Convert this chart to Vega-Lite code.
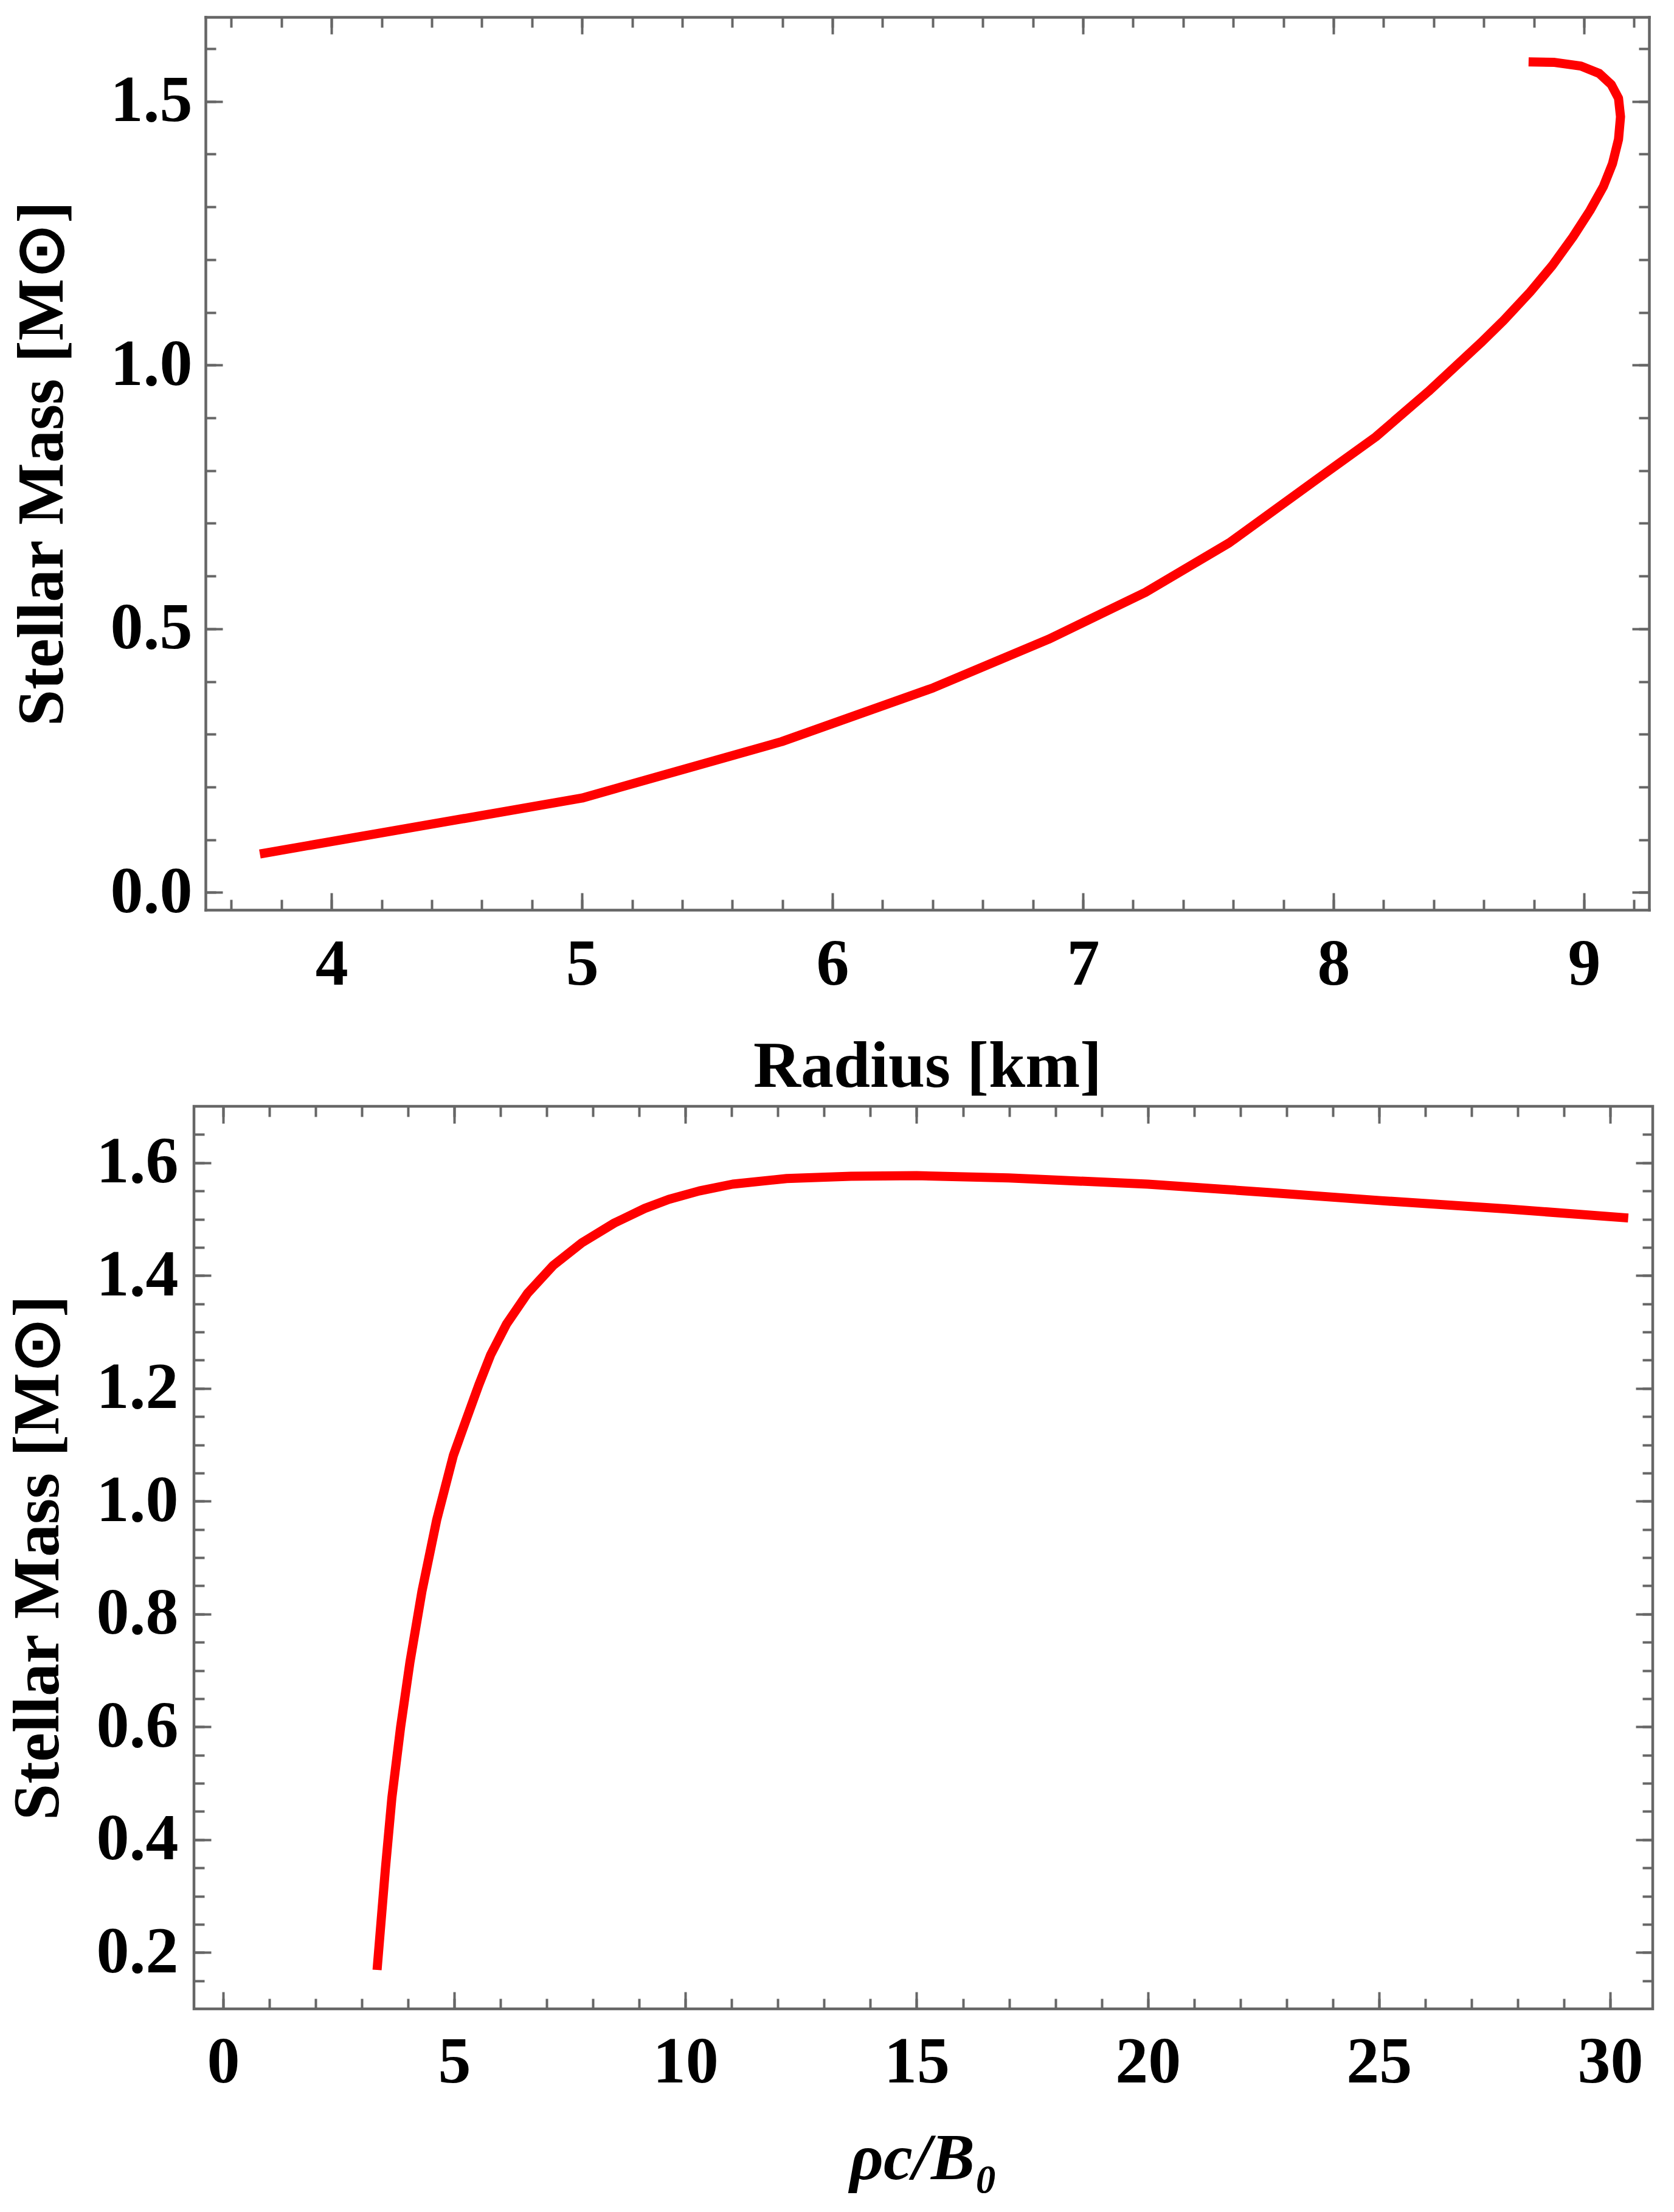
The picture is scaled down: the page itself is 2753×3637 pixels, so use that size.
{
  "$schema": "https://vega.github.io/schema/vega-lite/v6.json",
  "background": "white",
  "padding": {"left": 6, "top": 26, "right": 10, "bottom": 10},
  "config": {
    "view": {"stroke": "#666666", "strokeWidth": 4.5},
    "axis": {
      "domain": false, "grid": false,
      "domainColor": "#666666", "domainWidth": 4.5, "domainCap": "square",
      "tickColor": "#666666", "tickWidth": 4,
      "labelFont": "Liberation Serif", "labelFontWeight": "bold", "labelFontSize": 108, "labelColor": "black",
      "titleFont": "Liberation Serif", "titleFontWeight": "bold", "titleFontSize": 108, "titleColor": "black",
      "labelFlush": false, "labelOverlap": false
    }
  },
  "datasets": {
    "mr": [
      {"i": 0, "R": 3.714, "M": 0.073},
      {"i": 1, "R": 5.0, "M": 0.179},
      {"i": 2, "R": 5.797, "M": 0.286},
      {"i": 3, "R": 6.402, "M": 0.388},
      {"i": 4, "R": 6.862, "M": 0.48},
      {"i": 5, "R": 7.249, "M": 0.569},
      {"i": 6, "R": 7.584, "M": 0.663},
      {"i": 7, "R": 7.918, "M": 0.778},
      {"i": 8, "R": 8.169, "M": 0.864},
      {"i": 9, "R": 8.379, "M": 0.95},
      {"i": 10, "R": 8.588, "M": 1.042},
      {"i": 11, "R": 8.68, "M": 1.085},
      {"i": 12, "R": 8.786, "M": 1.139},
      {"i": 13, "R": 8.874, "M": 1.189},
      {"i": 14, "R": 8.956, "M": 1.243},
      {"i": 15, "R": 9.024, "M": 1.293},
      {"i": 16, "R": 9.078, "M": 1.339},
      {"i": 17, "R": 9.114, "M": 1.382},
      {"i": 18, "R": 9.138, "M": 1.428},
      {"i": 19, "R": 9.146, "M": 1.471},
      {"i": 20, "R": 9.138, "M": 1.506},
      {"i": 21, "R": 9.109, "M": 1.532},
      {"i": 22, "R": 9.061, "M": 1.553},
      {"i": 23, "R": 8.988, "M": 1.567},
      {"i": 24, "R": 8.883, "M": 1.574},
      {"i": 25, "R": 8.779, "M": 1.575}
    ],
    "mrho": [
      {"i": 0, "rho": 3.33, "M": 0.169},
      {"i": 1, "rho": 3.51, "M": 0.348},
      {"i": 2, "rho": 3.65, "M": 0.474},
      {"i": 3, "rho": 3.84, "M": 0.6},
      {"i": 4, "rho": 4.04, "M": 0.714},
      {"i": 5, "rho": 4.3, "M": 0.84},
      {"i": 6, "rho": 4.62, "M": 0.967},
      {"i": 7, "rho": 4.98, "M": 1.081},
      {"i": 8, "rho": 5.26, "M": 1.145},
      {"i": 9, "rho": 5.53, "M": 1.206},
      {"i": 10, "rho": 5.79, "M": 1.26},
      {"i": 11, "rho": 6.13, "M": 1.314},
      {"i": 12, "rho": 6.58, "M": 1.368},
      {"i": 13, "rho": 7.14, "M": 1.418},
      {"i": 14, "rho": 7.76, "M": 1.458},
      {"i": 15, "rho": 8.46, "M": 1.493},
      {"i": 16, "rho": 9.12, "M": 1.519},
      {"i": 17, "rho": 9.64, "M": 1.535},
      {"i": 18, "rho": 10.3, "M": 1.55},
      {"i": 19, "rho": 11.02, "M": 1.562},
      {"i": 20, "rho": 12.19, "M": 1.572},
      {"i": 21, "rho": 13.58, "M": 1.576},
      {"i": 22, "rho": 15.0, "M": 1.577},
      {"i": 23, "rho": 16.99, "M": 1.573},
      {"i": 24, "rho": 20.0, "M": 1.562},
      {"i": 25, "rho": 22.66, "M": 1.547},
      {"i": 26, "rho": 25.0, "M": 1.533},
      {"i": 27, "rho": 27.77, "M": 1.518},
      {"i": 28, "rho": 30.39, "M": 1.502}
    ]
  },
  "concat": [
    {
      "width": 2393, "height": 1468,
      "view": {"stroke": null},
      "data": {"name": "mr"},
      "layer": [
        {
          "mark": {"type": "line", "color": "#ff0000", "strokeWidth": 15, "strokeJoin": "round"},
          "encoding": {
            "x": {"field": "R", "type": "quantitative",
              "scale": {"domain": [3.497, 9.26], "range": [19, 2393], "nice": false, "zero": false},
              "axis": {"orient": "bottom", "values": [4, 5, 6, 7, 8, 9], "format": "d", "ticks": false, "labelPadding": 37, "title": "Radius [km]", "titlePadding": 61}},
            "y": {"field": "M", "type": "quantitative",
              "scale": {"domain": [-0.033, 1.66], "nice": false, "zero": false},
              "axis": {"orient": "left", "offset": -19, "values": [0, 0.5, 1, 1.5], "format": ".1f", "ticks": false, "labelPadding": 22, "title": "Stellar Mass [M⊙]", "titlePadding": 56}},
            "order": {"field": "i", "type": "quantitative"}
          }
        },
        {
          "mark": {"type": "line", "opacity": 0},
          "encoding": {
            "x": {"field": "R", "type": "quantitative", "axis": {"orient": "bottom", "domain": true, "values": [4, 5, 6, 7, 8, 9], "labels": false, "tickSize": -28, "title": null}},
            "y": {"field": "M", "type": "quantitative", "axis": {"orient": "left", "offset": -19, "domain": true, "values": [0, 0.5, 1, 1.5], "labels": false, "tickSize": -28, "title": null}},
            "order": {"field": "i", "type": "quantitative"}
          }
        },
        {
          "mark": {"type": "line", "opacity": 0},
          "encoding": {
            "x": {"field": "R", "type": "quantitative", "axis": {"orient": "top", "domain": true, "values": [4, 5, 6, 7, 8, 9], "labels": false, "tickSize": -28, "title": null}},
            "y": {"field": "M", "type": "quantitative", "axis": {"orient": "right", "domain": true, "values": [0, 0.5, 1, 1.5], "labels": false, "tickSize": -28, "title": null}},
            "order": {"field": "i", "type": "quantitative"}
          }
        },
        {
          "mark": {"type": "line", "opacity": 0},
          "encoding": {
            "x": {"field": "R", "type": "quantitative", "axis": {"orient": "bottom", "values": [3.6, 3.8, 4, 4.2, 4.4, 4.6, 4.8, 5, 5.2, 5.4, 5.6, 5.8, 6, 6.2, 6.4, 6.6, 6.8, 7, 7.2, 7.4, 7.6, 7.8, 8, 8.2, 8.4, 8.6, 8.8, 9, 9.2], "labels": false, "tickSize": -17, "title": null}},
            "y": {"field": "M", "type": "quantitative", "axis": {"orient": "left", "offset": -19, "values": [0, 0.1, 0.2, 0.3, 0.4, 0.5, 0.6, 0.7, 0.8, 0.9, 1, 1.1, 1.2, 1.3, 1.4, 1.5, 1.6], "labels": false, "tickSize": -17, "title": null}},
            "order": {"field": "i", "type": "quantitative"}
          }
        },
        {
          "mark": {"type": "line", "opacity": 0},
          "encoding": {
            "x": {"field": "R", "type": "quantitative", "axis": {"orient": "top", "values": [3.6, 3.8, 4, 4.2, 4.4, 4.6, 4.8, 5, 5.2, 5.4, 5.6, 5.8, 6, 6.2, 6.4, 6.6, 6.8, 7, 7.2, 7.4, 7.6, 7.8, 8, 8.2, 8.4, 8.6, 8.8, 9, 9.2], "labels": false, "tickSize": -17, "title": null}},
            "y": {"field": "M", "type": "quantitative", "axis": {"orient": "right", "values": [0, 0.1, 0.2, 0.3, 0.4, 0.5, 0.6, 0.7, 0.8, 0.9, 1, 1.1, 1.2, 1.3, 1.4, 1.5, 1.6], "labels": false, "tickSize": -17, "title": null}},
            "order": {"field": "i", "type": "quantitative"}
          }
        }
      ],
      "resolve": {"axis": {"x": "independent", "y": "independent"}}
    },
    {
      "width": 2399, "height": 1484,
      "data": {"name": "mrho"},
      "layer": [
        {
          "mark": {"type": "line", "color": "#ff0000", "strokeWidth": 15, "strokeJoin": "round"},
          "encoding": {
            "x": {"field": "rho", "type": "quantitative",
              "scale": {"domain": [-0.63, 30.92], "nice": false, "zero": false},
              "axis": {"orient": "bottom", "values": [0, 5, 10, 15, 20, 25, 30], "format": "d", "ticks": false, "labelPadding": 35, "title": "ρc/B₀", "titleFontStyle": "italic", "titlePadding": 52}},
            "y": {"field": "M", "type": "quantitative",
              "scale": {"domain": [0.1, 1.7], "nice": false, "zero": false},
              "axis": {"orient": "left", "values": [0.2, 0.4, 0.6, 0.8, 1, 1.2, 1.4, 1.6], "format": ".1f", "ticks": false, "labelPadding": 26, "title": "Stellar Mass [M⊙]", "titlePadding": 40}},
            "order": {"field": "i", "type": "quantitative"}
          }
        },
        {
          "mark": {"type": "line", "opacity": 0},
          "encoding": {
            "x": {"field": "rho", "type": "quantitative", "axis": {"orient": "bottom", "values": [0, 5, 10, 15, 20, 25, 30], "labels": false, "tickSize": -28, "title": null}},
            "y": {"field": "M", "type": "quantitative", "axis": {"orient": "left", "values": [0.2, 0.4, 0.6, 0.8, 1, 1.2, 1.4, 1.6], "labels": false, "tickSize": -28, "title": null}},
            "order": {"field": "i", "type": "quantitative"}
          }
        },
        {
          "mark": {"type": "line", "opacity": 0},
          "encoding": {
            "x": {"field": "rho", "type": "quantitative", "axis": {"orient": "top", "values": [0, 5, 10, 15, 20, 25, 30], "labels": false, "tickSize": -28, "title": null}},
            "y": {"field": "M", "type": "quantitative", "axis": {"orient": "right", "values": [0.2, 0.4, 0.6, 0.8, 1, 1.2, 1.4, 1.6], "labels": false, "tickSize": -28, "title": null}},
            "order": {"field": "i", "type": "quantitative"}
          }
        },
        {
          "mark": {"type": "line", "opacity": 0},
          "encoding": {
            "x": {"field": "rho", "type": "quantitative", "axis": {"orient": "bottom", "values": [0, 1, 2, 3, 4, 5, 6, 7, 8, 9, 10, 11, 12, 13, 14, 15, 16, 17, 18, 19, 20, 21, 22, 23, 24, 25, 26, 27, 28, 29, 30], "labels": false, "tickSize": -17, "title": null}},
            "y": {"field": "M", "type": "quantitative", "axis": {"orient": "left", "values": [0.15, 0.2, 0.25, 0.3, 0.35, 0.4, 0.45, 0.5, 0.55, 0.6, 0.65, 0.7, 0.75, 0.8, 0.85, 0.9, 0.95, 1, 1.05, 1.1, 1.15, 1.2, 1.25, 1.3, 1.35, 1.4, 1.45, 1.5, 1.55, 1.6, 1.65], "labels": false, "tickSize": -17, "title": null}},
            "order": {"field": "i", "type": "quantitative"}
          }
        },
        {
          "mark": {"type": "line", "opacity": 0},
          "encoding": {
            "x": {"field": "rho", "type": "quantitative", "axis": {"orient": "top", "values": [0, 1, 2, 3, 4, 5, 6, 7, 8, 9, 10, 11, 12, 13, 14, 15, 16, 17, 18, 19, 20, 21, 22, 23, 24, 25, 26, 27, 28, 29, 30], "labels": false, "tickSize": -17, "title": null}},
            "y": {"field": "M", "type": "quantitative", "axis": {"orient": "right", "values": [0.15, 0.2, 0.25, 0.3, 0.35, 0.4, 0.45, 0.5, 0.55, 0.6, 0.65, 0.7, 0.75, 0.8, 0.85, 0.9, 0.95, 1, 1.05, 1.1, 1.15, 1.2, 1.25, 1.3, 1.35, 1.4, 1.45, 1.5, 1.55, 1.6, 1.65], "labels": false, "tickSize": -17, "title": null}},
            "order": {"field": "i", "type": "quantitative"}
          }
        }
      ],
      "resolve": {"axis": {"x": "independent", "y": "independent"}}
    }
  ],
  "columns": 1,
  "align": "none",
  "spacing": 6
}
